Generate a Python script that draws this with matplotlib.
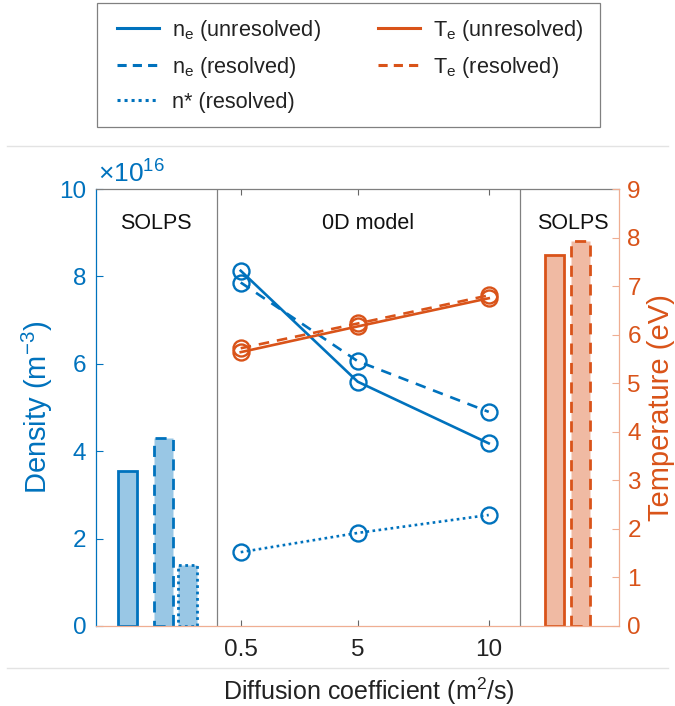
import matplotlib
matplotlib.use('Agg')
import matplotlib.pyplot as plt
from matplotlib.lines import Line2D
from matplotlib.patches import Rectangle

plt.rcParams['font.family'] = ['Liberation Sans', 'DejaVu Sans']
plt.rcParams['mathtext.fontset'] = 'custom'
plt.rcParams['mathtext.rm'] = 'Liberation Sans'
plt.rcParams['mathtext.it'] = 'Liberation Sans'

# data (density in units of 1e16 m^-3, temperature in eV)
diff_labels = ['0.5', '5', '10']
ne_unres = [8.13, 5.59, 4.18]
ne_res = [7.86, 6.06, 4.90]
nstar_res = [1.69, 2.13, 2.54]
te_unres = [5.64, 6.17, 6.75]
te_res = [5.72, 6.23, 6.81]
solps_ne = [3.55, 4.31, 1.40]   # ne unresolved, ne resolved, n* resolved
solps_te = [7.65, 7.93]         # Te unresolved, Te resolved

blue = '#0072BD'
orange = '#D95319'
blue_fill = '#99C7E5'
orange_fill = '#F0BAA3'
orange_axis = '#EFAE92'

# layout positions on the x axis
x_model = [2.767, 5.004, 7.509]
x_div = [2.308, 8.107]
x_bar_left = [0.602, 1.291, 1.750]
x_bar_right = [8.767, 9.264]
bar_w = 0.35

dash = (0, (4, 3))
dot = (0, (1, 1.3))
lw = 1.9

fig = plt.figure(figsize=(6.75, 7.06), dpi=100)
ax = fig.add_axes([96/675, 1-626/706, 523/675, 437/706])
ax2 = ax.twinx()

# SOLPS density bars
for x, v, ls in zip(x_bar_left, solps_ne, ['-', dash, dot]):
    ax.bar(x, v, width=bar_w, color=blue_fill, edgecolor=blue, linewidth=2.0, linestyle=ls)

# 0D model density
mk = dict(marker='o', markersize=11.5, mfc='none', mew=1.7)
ax.plot(x_model, ne_unres, color=blue, lw=lw, ls='-', **mk)
ax.plot(x_model, ne_res, color=blue, lw=lw, ls=dash, **mk)
ax.plot(x_model, nstar_res, color=blue, lw=lw, ls=dot, **mk)

for xd in x_div:
    ax.axvline(xd, color='#808080', lw=0.9, zorder=0)

# SOLPS temperature bars
for x, v, ls in zip(x_bar_right, solps_te, ['-', dash]):
    ax2.bar(x, v, width=bar_w, color=orange_fill, edgecolor=orange, linewidth=2.0, linestyle=ls)

ax2.plot(x_model, te_unres, color=orange, lw=lw, ls='-', **mk)
ax2.plot(x_model, te_res, color=orange, lw=lw, ls=dash, **mk)

ax.set_xlim(0, 10)
ax.set_ylim(0, 10)
ax2.set_ylim(0, 9)
ax.set_xticks(x_model)
ax.set_xticklabels(diff_labels)
ax.set_yticks(range(0, 11, 2))
ax2.set_yticks(range(0, 10))

fs = 17.5
ax.tick_params(axis='x', direction='in', length=4, width=0.8, color='#666666',
               labelsize=fs, labelcolor='#222222', pad=9, top=True)
ax.tick_params(axis='y', direction='in', length=5, width=0.8, color=blue,
               labelsize=fs, labelcolor=blue, pad=7)
ax2.tick_params(axis='y', direction='in', length=5, width=0.8, color=orange_axis,
                labelsize=fs, labelcolor=orange, pad=6)

for s in ['top', 'bottom', 'left', 'right']:
    ax.spines[s].set_visible(False)
    ax2.spines[s].set_visible(False)
ax.spines['left'].set_visible(True)
ax.spines['left'].set_color(blue)
ax.spines['top'].set_visible(True)
ax.spines['top'].set_color('#7f7f7f')
ax2.spines['right'].set_visible(True)
ax2.spines['right'].set_color(orange_axis)
ax2.spines['bottom'].set_visible(True)
ax2.spines['bottom'].set_color(orange_axis)
for sp in [ax.spines['left'], ax.spines['top'], ax2.spines['right'], ax2.spines['bottom']]:
    sp.set_linewidth(0.9)

ax.set_xlabel('Diffusion coefficient (m$^2$/s)', fontsize=18, color='#222222')
ax.xaxis.set_label_coords(0.522, -0.113)
ax.set_ylabel('Density (m$^{-3}$)', fontsize=21, color=blue, labelpad=3)
ax2.set_ylabel('Temperature (eV)', fontsize=21, color=orange, labelpad=4)

ax.annotate('×10$^{16}$', xy=(0, 1), xycoords='axes fraction', xytext=(2, 6),
            textcoords='offset pixels', fontsize=19, color=blue, va='baseline', ha='left')

# region labels
ax.text(x_div[0] / 2, 0.92, 'SOLPS', transform=ax.get_xaxis_transform(),
        ha='center', va='center', fontsize=15.5, color='#111111')
ax.text((x_div[0] + x_div[1]) / 2, 0.92, '0D model', transform=ax.get_xaxis_transform(),
        ha='center', va='center', fontsize=15.5, color='#111111')
ax.text((x_div[1] + 10) / 2 + 0.07, 0.92, 'SOLPS', transform=ax.get_xaxis_transform(),
        ha='center', va='center', fontsize=15.5, color='#111111')

# legend (frame drawn separately)
leg_dash = (0, (3, 2))
handles = [
    Line2D([], [], color=blue, lw=2.2, ls='-'),
    Line2D([], [], color=blue, lw=2.2, ls=leg_dash),
    Line2D([], [], color=blue, lw=2.2, ls=dot),
    Line2D([], [], color=orange, lw=2.2, ls='-'),
    Line2D([], [], color=orange, lw=2.2, ls=leg_dash),
]
labels = ['n$_\\mathrm{e}$ (unresolved)', 'n$_\\mathrm{e}$ (resolved)', 'n* (resolved)',
          'T$_\\mathrm{e}$ (unresolved)', 'T$_\\mathrm{e}$ (resolved)']
leg = fig.legend(handles, labels, loc='upper left', bbox_to_anchor=(117/675, 1 - 18/706),
                 ncol=2, fontsize=15.7, frameon=False,
                 handlelength=1.93, handletextpad=0.6, columnspacing=2.6,
                 labelspacing=0.55, borderpad=0, borderaxespad=0)
for t in leg.get_texts():
    t.set_color('#222222')
fig.add_artist(Rectangle((97/675, 1 - 127/706), 503/675, 124/706, transform=fig.transFigure,
                         fill=False, edgecolor='#808080', lw=0.9))

# faint separator lines
fig.add_artist(Line2D([0.01, 0.99], [1 - 146/706] * 2, transform=fig.transFigure,
                      color='#e3e3e3', lw=1))
fig.add_artist(Line2D([0.01, 0.99], [1 - 668/706] * 2, transform=fig.transFigure,
                      color='#e3e3e3', lw=1))

fig.savefig('out.png', dpi=100)
